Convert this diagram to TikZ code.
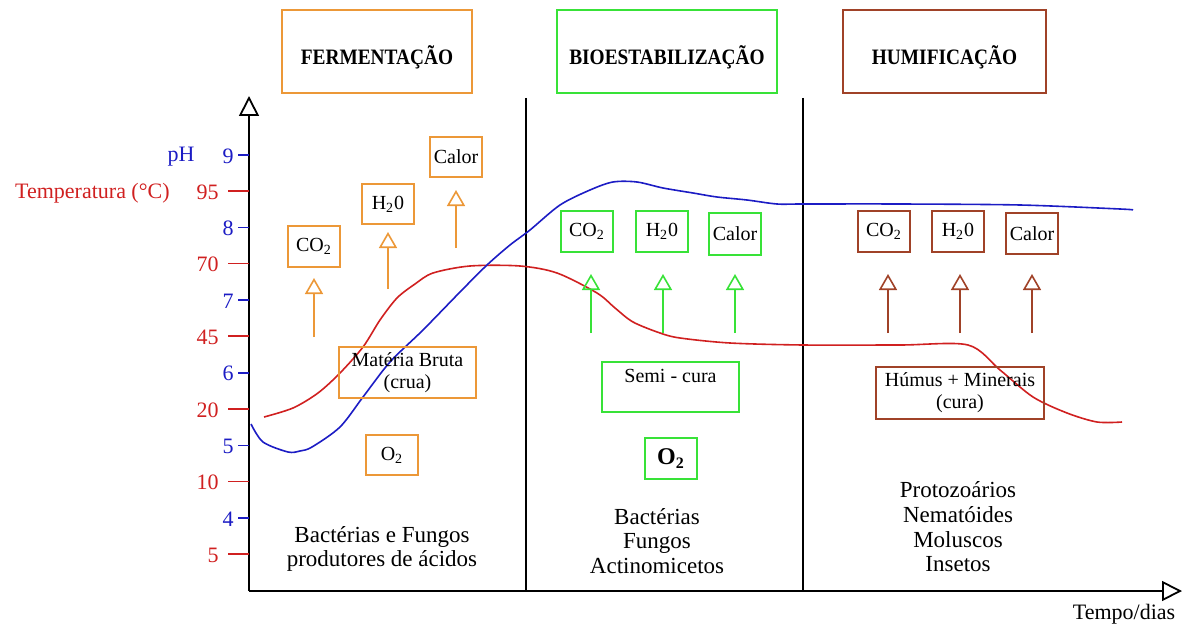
\documentclass[tikz,border=0pt]{standalone}
\usepackage{fontspec}
\setmainfont{Liberation Serif}
\newfontfamily\titlefont[FakeStretch=0.88]{Liberation Serif}
\usepackage{tikz}
\usetikzlibrary{arrows.meta,positioning}
\definecolor{fermorange}{RGB}{236,152,56}
\definecolor{biogreen}{RGB}{56,226,56}
\definecolor{humbrown}{RGB}{160,66,40}
\definecolor{phblue}{RGB}{28,28,196}
\definecolor{tempred}{RGB}{208,32,32}

\begin{document}
\begin{tikzpicture}[
    x=0.5pt, y=-0.5pt,
    titlebox/.style={draw=#1, line width=1pt, minimum height=41.5pt, text height=12.7pt, text depth=0pt, font=\titlefont\bfseries\fontsize{11}{13}\selectfont},
    gasbox/.style={draw=#1, line width=1pt, minimum width=26pt, minimum height=20.5pt, inner sep=1pt, font=\fontsize{10}{11}\selectfont},
    stagebox/.style={draw=#1, line width=1pt, align=center, inner sep=1pt, font=\fontsize{10}{11}\selectfont},
    organisms/.style={align=center, font=\fontsize{11.5}{12.3}\selectfont},
    uparrow/.style={draw=#1, line width=0.8pt, -{Triangle[open,length=8pt,width=9pt]}},
    axis/.style={line width=0.9pt, -{Triangle[open,length=10pt,width=10pt]}},
    curve/.style={draw=#1, line width=0.8pt}
]
    \useasboundingbox (0,0) rectangle (1182,626);

    % axes and phase dividers
    \coordinate (origin) at (249,591);
    \coordinate (ytop) at (249,96);
    \coordinate (xend) at (1182,591);
    \coordinate (div1) at (526,98);
    \coordinate (div2) at (803,98);
    \draw[axis] (origin) -- (ytop);
    \draw[axis] (origin) -- (xend);
    \draw[line width=0.6pt] (div1) -- (div1 |- origin);
    \draw[line width=0.6pt] (div2) -- (div2 |- origin);
    \node[anchor=north, inner sep=0, font=\fontsize{11}{12}\selectfont] (tempo) at (1124,604) {Tempo/dias};

    % scales
    \foreach \v [count=\i from 0] in {9,8,7,6,5,4} {
        \draw[phblue, line width=0.8pt] (238,155+72.6*\i) -- (249,155+72.6*\i);
        \node[anchor=east, inner sep=0, text=phblue, font=\fontsize{11}{12}\selectfont] (ph\i) at (234,156+72.6*\i) {\v};
    }
    \foreach \v [count=\i from 0] in {95,70,45,20,10,5} {
        \draw[tempred, line width=0.8pt] (228,191+72.6*\i) -- (249,191+72.6*\i);
        \node[anchor=east, inner sep=0, text=tempred, font=\fontsize{11}{12}\selectfont] (temp\i) at (219,192+72.6*\i) {\v};
    }
    \node[anchor=east, inner sep=0, text=phblue, font=\fontsize{11}{12}\selectfont] (phlabel) at (195,157) {pH};
    \node[anchor=east, inner sep=0, text=tempred, font=\fontsize{11}{12}\selectfont] (templabel) at (170,193) {Temperatura (°C)};

    % curves
    \draw[curve=tempred] plot[smooth, tension=0.5] coordinates {
        (264,417) (293,408) (318,393) (340,373) (363,347) (380,320) (397,298)
        (415,284) (433,273) (470,266) (520,266) (557,273) (597,293) (615,308)
        (633,322) (660,333) (680,338) (730,343) (803,345) (900,345) (968,345)
        (1000,370) (1033,397) (1067,413) (1097,422) (1122,422)};
    \draw[curve=phblue] plot[smooth, tension=0.5] coordinates {
        (251,424) (263,442) (288,452) (300,451) (312,447) (340,427) (363,397)
        (390,362) (423,330) (460,292) (487,265) (510,245) (530,230) (560,205)
        (590,190) (613,182) (637,182) (663,188) (693,193) (717,197) (747,200)
        (777,204) (803,204) (900,204) (1020,205) (1120,209) (1133,210)};

    % phase titles
    \node[titlebox=fermorange, minimum width=95pt] (fermtitle) at (377,51.5) {FERMENTAÇÃO};
    \node[titlebox=biogreen, minimum width=110pt] (biotitle) at (667,51.5) {BIOESTABILIZAÇÃO};
    \node[titlebox=humbrown, minimum width=101.5pt] (humtitle) at (944.5,51.5) {HUMIFICAÇÃO};

    % fermentacao
    \node[gasbox=fermorange] (co2ferm) at (314,246.5) {CO\textsubscript{2}};
    \node[gasbox=fermorange, minimum height=20pt] (h2oferm) at (388,204) {H\textsubscript{2}0};
    \node[gasbox=fermorange, minimum height=20pt] (calorferm) at (456,157) {Calor};
    \draw[uparrow=fermorange] ([yshift=-34.5pt]co2ferm.south) -- ([yshift=-5pt]co2ferm.south);
    \draw[uparrow=fermorange] ([yshift=-32pt]h2oferm.south) -- ([yshift=-3.5pt]h2oferm.south);
    \draw[uparrow=fermorange] ([yshift=-35pt]calorferm.south) -- ([yshift=-6pt]calorferm.south);
    \node[stagebox=fermorange, minimum width=68.5pt, minimum height=25.5pt] (materia) at (407.5,372.5) {Matéria Bruta\\(crua)};
    \node[gasbox=fermorange, minimum height=20pt] (o2ferm) at (392,455) {O\textsubscript{2}};
    \node[organisms] (bactferm) at (382,549) {Bactérias e Fungos\\produtores de ácidos};

    % bioestabilizacao
    \node[gasbox=biogreen] (co2bio) at (587,231.5) {CO\textsubscript{2}};
    \node[gasbox=biogreen] (h2obio) at (662,231.5) {H\textsubscript{2}0};
    \node[gasbox=biogreen, minimum height=21pt] (calorbio) at (735,234) {Calor};
    \draw[uparrow=biogreen] ([xshift=2pt,yshift=-40pt]co2bio.south) -- ([xshift=2pt,yshift=-10.5pt]co2bio.south);
    \draw[uparrow=biogreen] ([xshift=0.5pt,yshift=-40pt]h2obio.south) -- ([xshift=0.5pt,yshift=-10.5pt]h2obio.south);
    \draw[uparrow=biogreen] ([yshift=-38.5pt]calorbio.south) -- ([yshift=-9pt]calorbio.south);
    \node[stagebox=biogreen, minimum width=68.5pt, minimum height=25pt] (semicura) at (670.5,387) {Semi - cura\\\mbox{}};
    \node[gasbox=biogreen, font=\bfseries\fontsize{12}{13}\selectfont] (o2bio) at (671,458.5) {O\textsubscript{2}};
    \node[organisms] (bactbio) at (657,541) {Bactérias\\Fungos\\Actinomicetos};

    % humificacao
    \node[gasbox=humbrown] (co2hum) at (884,231.5) {CO\textsubscript{2}};
    \node[gasbox=humbrown] (h2ohum) at (958,231.5) {H\textsubscript{2}0};
    \node[gasbox=humbrown] (calorhum) at (1032,233.5) {Calor};
    \draw[uparrow=humbrown] ([xshift=2pt,yshift=-40pt]co2hum.south) -- ([xshift=2pt,yshift=-10.5pt]co2hum.south);
    \draw[uparrow=humbrown] ([xshift=1pt,yshift=-40pt]h2ohum.south) -- ([xshift=1pt,yshift=-10.5pt]h2ohum.south);
    \draw[uparrow=humbrown] ([yshift=-39pt]calorhum.south) -- ([yshift=-9.5pt]calorhum.south);
    \node[stagebox=humbrown, minimum width=84pt, minimum height=26pt] (humus) at (960,393) {Húmus + Minerais\\(cura)};
    \node[organisms] (orghum) at (958,527) {Protozoários\\Nematóides\\Moluscos\\Insetos};
\end{tikzpicture}
\end{document}
